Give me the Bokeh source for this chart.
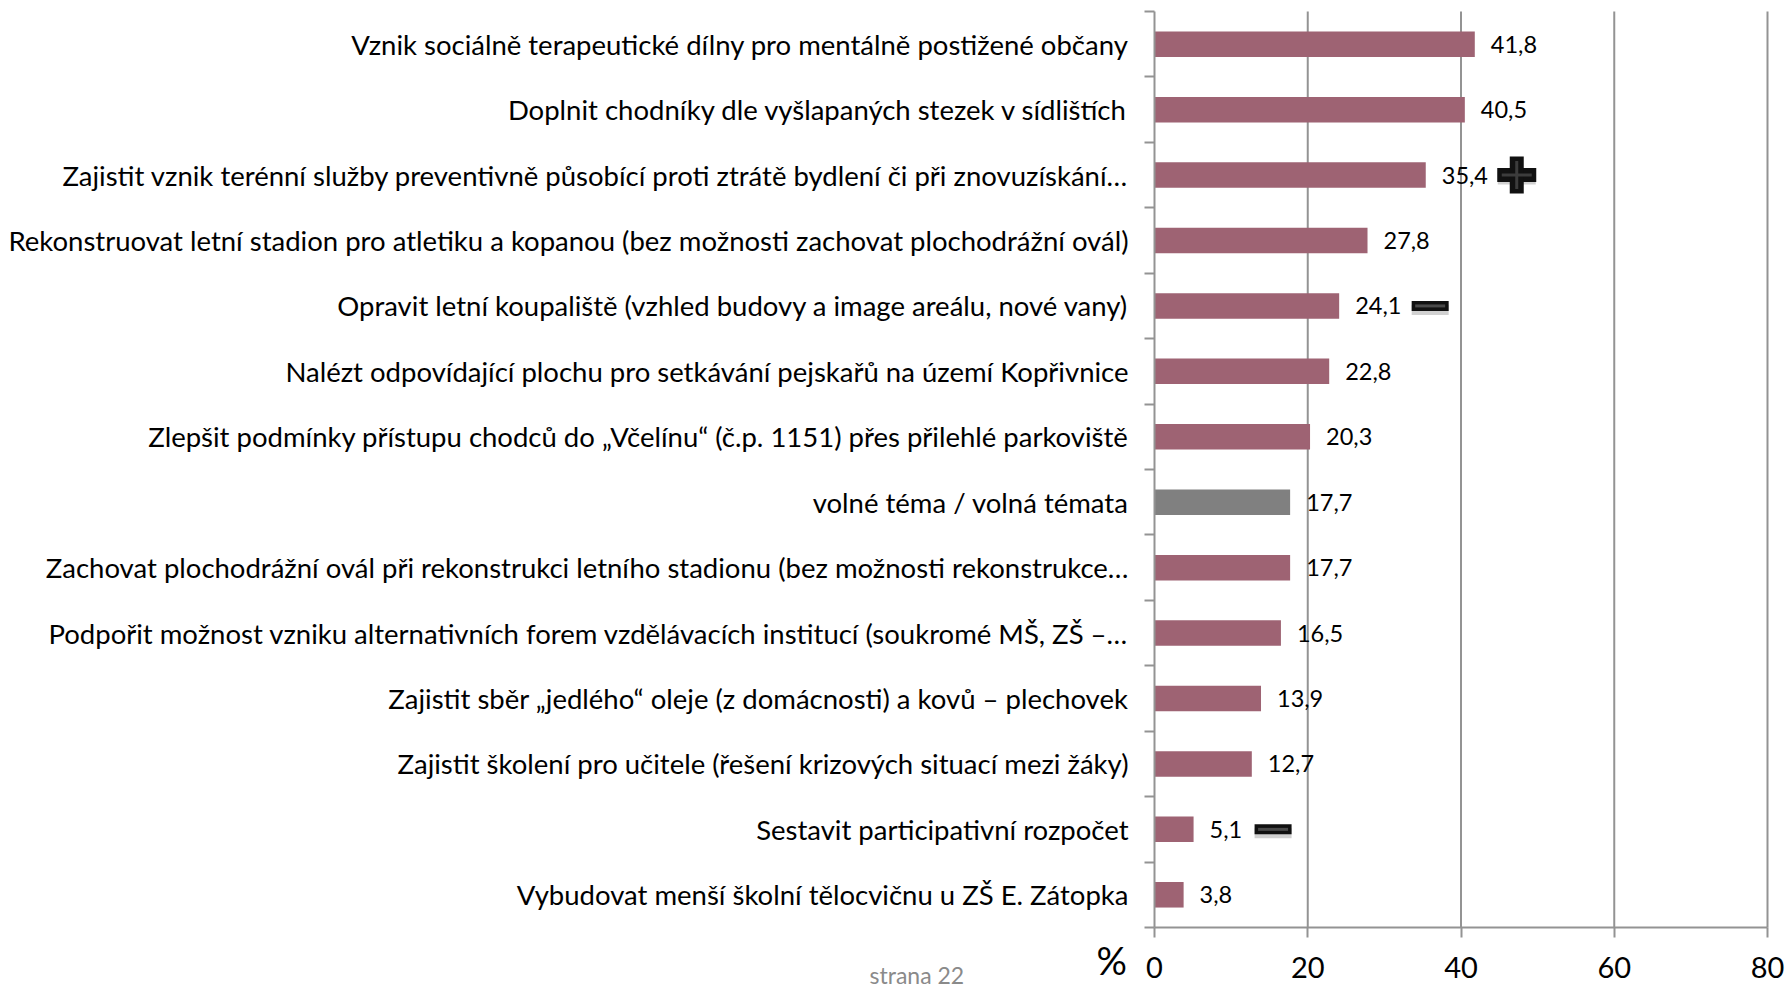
from bokeh.plotting import figure
from bokeh.models import Range1d, FixedTicker, Label, LinearAxis
from bokeh.core.properties import value
from bokeh.embed import file_html
from bokeh.resources import INLINE

categories = [
    "Vznik sociálně terapeutické dílny pro mentálně postižené občany",
    "Doplnit chodníky dle vyšlapaných stezek v sídlištích",
    "Zajistit vznik terénní služby preventivně působící proti ztrátě bydlení či při znovuzískání…",
    "Rekonstruovat letní stadion pro atletiku a kopanou (bez možnosti zachovat plochodrážní ovál)",
    "Opravit letní koupaliště (vzhled budovy a image areálu, nové vany)",
    "Nalézt odpovídající plochu pro setkávání pejskařů na území Kopřivnice",
    "Zlepšit podmínky přístupu chodců do „Včelínu“ (č.p. 1151) přes přilehlé parkoviště",
    "volné téma / volná témata",
    "Zachovat plochodrážní ovál při rekonstrukci letního stadionu (bez možnosti rekonstrukce…",
    "Podpořit možnost vzniku alternativních forem vzdělávacích institucí (soukromé MŠ, ZŠ –…",
    "Zajistit sběr „jedlého“ oleje (z domácnosti) a kovů – plechovek",
    "Zajistit školení pro učitele (řešení krizových situací mezi žáky)",
    "Sestavit participativní rozpočet",
    "Vybudovat menší školní tělocvičnu u ZŠ E. Zátopka",
]
values = [41.8, 40.5, 35.4, 27.8, 24.1, 22.8, 20.3, 17.7, 17.7, 16.5, 13.9, 12.7, 5.1, 3.8]
is_free_topic = [False, False, False, False, False, False, False, True, False, False, False, False, False, False]
signs = ["", "", "+", "", "-", "", "", "", "", "", "", "", "-", ""]
x_ticks = [0, 20, 40, 60, 80]

BAR = "#9E6373"
FREE = "#808080"
GRID = "#939393"
FONT = "Lato"

# page geometry (pixels): the plotting area of the chart inside the canvas
W, H = 1787, 988
PL, PR, PT, PB = 1154, 1767, 11, 927
n = len(categories)
xmax = x_ticks[-1]
px_per_unit = (PR - PL) / xmax
px_per_cat = (PB - PT) / n

ypos = [n - 0.5 - i for i in range(n)]
colors = [FREE if f else BAR for f in is_free_topic]
labels = [f"{v:.1f}".replace(".", ",") for v in values]

# the frame covers the whole canvas so axes/labels outside the data area are not clipped
p = figure(width=W, height=H, output_backend="svg", toolbar_location=None,
           x_range=Range1d(-PL / px_per_unit, xmax + (W - PR) / px_per_unit),
           y_range=Range1d(-(H - PB) / px_per_cat, n + PT / px_per_cat),
           x_axis_location=None, y_axis_location=None,
           min_border=0, min_border_left=0, min_border_right=0,
           min_border_top=0, min_border_bottom=0)
p.outline_line_color = None
p.background_fill_color = "white"
p.border_fill_color = "white"
p.xgrid.visible = False
p.ygrid.visible = False

# vertical grid lines, behind the bars
p.segment(x0=x_ticks[1:], y0=0, x1=x_ticks[1:], y1=n, line_color=GRID, line_width=2, level="underlay")

p.hbar(y=ypos, left=0, right=values, height=0.39, fill_color=colors, line_color=None)

p.text(x=values, y=ypos, text=labels, x_offset=16, text_align="left", text_baseline="middle",
       text_font=value(FONT), text_font_size="23.5px", text_color="black")

# plus / minus markers next to some value labels
for v, y, s, lab in zip(values, ypos, signs, labels):
    if not s:
        continue
    off = 17 + 11.5 * len(lab) + 28
    cx = v + off / px_per_unit
    if s == "+":
        p.rect(x=cx, y=y - 3 / px_per_cat, width=38, height=13, width_units="screen", height_units="screen",
               fill_color="black", fill_alpha=0.18, line_color=None)
        p.rect(x=cx, y=y, width=39, height=14, width_units="screen", height_units="screen",
               fill_color="#111111", line_color=None)
        p.rect(x=cx, y=y, width=14, height=37, width_units="screen", height_units="screen",
               fill_color="#111111", line_color=None)
        p.rect(x=cx, y=y, width=30, height=3, width_units="screen", height_units="screen",
               fill_color="#3c3c3c", line_color=None)
        p.rect(x=cx, y=y, width=3, height=28, width_units="screen", height_units="screen",
               fill_color="#3c3c3c", line_color=None)
    else:
        p.rect(x=cx, y=y - 4 / px_per_cat, width=37, height=10, width_units="screen", height_units="screen",
               fill_color="black", fill_alpha=0.18, line_color=None)
        p.rect(x=cx, y=y, width=37, height=10, width_units="screen", height_units="screen",
               fill_color="#111111", line_color=None)
        p.rect(x=cx, y=y, width=30, height=3, width_units="screen", height_units="screen",
               fill_color="#4a4a4a", line_color=None)

# x axis at y = 0
xaxis = LinearAxis(fixed_location=0, ticker=FixedTicker(ticks=x_ticks), bounds=(0, xmax))
xaxis.major_tick_in = 0
xaxis.major_tick_out = 10
xaxis.minor_tick_line_color = None
xaxis.major_tick_line_color = GRID
xaxis.major_tick_line_width = 2
xaxis.axis_line_color = GRID
xaxis.axis_line_width = 2
xaxis.major_label_text_font = FONT
xaxis.major_label_text_font_size = "29px"
xaxis.major_label_text_color = "black"
xaxis.major_label_standoff = 19
p.add_layout(xaxis, "below")

# y axis at x = 0: labels at category centres, ticks at category boundaries
yaxis = LinearAxis(fixed_location=0, bounds=(0, n),
                   ticker=FixedTicker(ticks=ypos, minor_ticks=list(range(n + 1))))
yaxis.major_label_overrides = {y: c for y, c in zip(ypos, categories)}
yaxis.major_tick_line_color = None
yaxis.minor_tick_in = 0
yaxis.minor_tick_out = 10
yaxis.minor_tick_line_color = GRID
yaxis.minor_tick_line_width = 2
yaxis.axis_line_color = GRID
yaxis.axis_line_width = 2
yaxis.major_label_text_font = FONT
yaxis.major_label_text_font_size = "27.5px"
yaxis.major_label_text_color = "black"
yaxis.major_label_standoff = 16
p.add_layout(yaxis, "left")

p.add_layout(Label(x=1096, y=959, x_units="canvas", y_units="canvas", text="%",
                   text_font=FONT, text_font_size="38px", text_color="black",
                   text_align="left", text_baseline="middle"))
p.add_layout(Label(x=869, y=974, x_units="canvas", y_units="canvas", text="strana 22",
                   text_font=FONT, text_font_size="23px", text_color="#8a8a8a",
                   text_align="left", text_baseline="middle"))

open("out.html", "w").write(file_html(p, INLINE))
